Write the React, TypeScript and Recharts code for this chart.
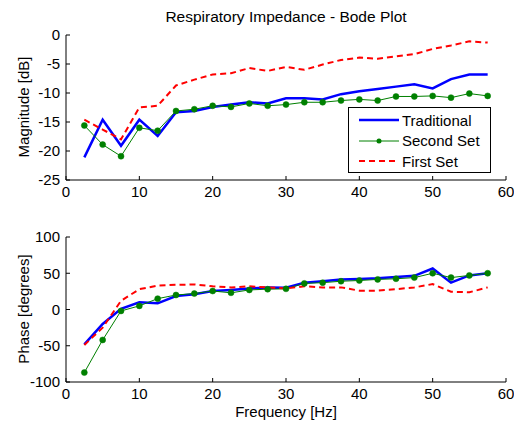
import React from 'react'
import { LineChart, Line, XAxis, YAxis, Legend } from 'recharts'

const freq = [2.5, 5, 7.5, 10, 12.5, 15, 17.5, 20, 22.5, 25, 27.5, 30, 32.5, 35, 37.5, 40, 42.5, 45, 47.5, 50, 52.5, 55, 57.5]

const magTraditional = [-21.1, -14.6, -19.1, -14.6, -17.4, -13.3, -13.1, -12.4, -12.0, -11.6, -11.8, -10.9, -10.9, -11.1, -10.2, -9.7, -9.3, -8.9, -8.5, -9.2, -7.6, -6.8, -6.8]
const magSecond = [-15.6, -18.9, -20.9, -16.0, -16.5, -13.1, -12.8, -12.2, -12.4, -11.8, -12.2, -12.0, -11.6, -11.6, -11.3, -11.1, -11.3, -10.6, -10.6, -10.5, -10.8, -10.1, -10.5]
const magFirst = [-14.6, -16.3, -18.0, -12.5, -12.2, -8.7, -7.7, -6.8, -6.6, -5.7, -6.2, -5.5, -6.0, -5.1, -4.3, -3.9, -4.1, -3.7, -3.3, -2.4, -1.8, -1.1, -1.3]

const phaseTraditional = [-48, -20, 1, 10, 8.5, 18.6, 21, 25.5, 27, 29, 30.5, 30, 37, 39, 41.5, 42, 43, 44.7, 46.5, 56.6, 37, 47, 50]
const phaseSecond = [-87, -42, -2, 5, 15, 20, 22, 25.5, 23, 27, 28, 28.5, 36, 37, 39, 40, 41.5, 42.4, 44, 50, 44, 47, 50]
const phaseFirst = [-49, -25, 12, 28, 33, 34, 34.5, 32, 30.5, 32, 30.5, 29, 32, 30.5, 30.5, 26, 26, 28, 30.5, 35, 24.5, 23.7, 30.5]

const xTicks = [0, 10, 20, 30, 40, 50, 60]
const magTicks = [-25, -20, -15, -10, -5, 0]
const phaseTicks = [-100, -50, 0, 50, 100]

const magData = freq.map((f, i) => ({ f, trad: magTraditional[i], second: magSecond[i], first: magFirst[i] }))
const phaseData = freq.map((f, i) => ({ f, trad: phaseTraditional[i], second: phaseSecond[i], first: phaseFirst[i] }))

const FONT = '"Liberation Sans", Arial, sans-serif'
const tickStyle = { fill: '#000', fontSize: 15, fontFamily: FONT }
const blank = () => ''

function BodeLegend() {
  const rows = [
    { name: 'Traditional', color: '#0000ff', width: 2.5, dash: undefined, dot: false },
    { name: 'Second Set', color: '#008000', width: 1, dash: undefined, dot: true },
    { name: 'First Set', color: '#ff0000', width: 2, dash: '6 4', dot: false },
  ]
  return (
    <div style={{ width: 141, height: 64, border: '1px solid #000', background: '#fff', boxSizing: 'content-box' }}>
      {rows.map((r) => (
        <div key={r.name} style={{ display: 'flex', alignItems: 'center', height: 20.5, marginTop: r.name === 'Traditional' ? 2 : 0 }}>
          <svg width={52} height={12} style={{ marginLeft: 8 }}>
            <line x1={2} y1={6} x2={42} y2={6} stroke={r.color} strokeWidth={r.width} strokeDasharray={r.dash} />
            {r.dot && <circle cx={22} cy={6} r={2.5} fill={r.color} />}
          </svg>
          <span style={{ fontFamily: FONT, fontSize: 15, color: '#000', marginLeft: -7 }}>{r.name}</span>
        </div>
      ))}
    </div>
  )
}

function Panel({ data, ticks, domain, top, legend }: { data: any[]; ticks: number[]; domain: [number, number]; top: number; legend?: boolean }) {
  return (
    <LineChart width={514} height={top + 145 + 25} data={data} margin={{ top, right: 8, bottom: 0, left: 0 }}>
      <XAxis dataKey="f" type="number" domain={[0, 60]} ticks={xTicks} height={25} stroke="#000" tickSize={-4} tickMargin={10} tick={tickStyle} interval={0} />
      <XAxis xAxisId="t" orientation="top" dataKey="f" type="number" domain={[0, 60]} ticks={xTicks} height={0} stroke="#000" tickSize={-4} tickFormatter={blank} interval={0} />
      <YAxis type="number" domain={domain} ticks={ticks} width={66} stroke="#000" tickSize={-4} tickMargin={10} tick={tickStyle} interval={0} allowDataOverflow />
      <YAxis yAxisId="r" orientation="right" type="number" domain={domain} ticks={ticks} width={0} stroke="#000" tickSize={-4} tickFormatter={blank} interval={0} />
      <Line dataKey="trad" stroke="#0000ff" strokeWidth={2.5} dot={false} isAnimationActive={false} />
      <Line dataKey="second" stroke="#008000" strokeWidth={1} dot={{ r: 3, fill: '#008000', stroke: '#008000', strokeWidth: 0.5 }} isAnimationActive={false} />
      <Line dataKey="first" stroke="#ff0000" strokeWidth={2} strokeDasharray="6 4" dot={false} isAnimationActive={false} />
      {legend && (
        <Legend layout="vertical" align="center" verticalAlign="middle" content={() => <BodeLegend />} wrapperStyle={{ position: 'absolute', left: 348, top: 107, width: 143, height: 66 }} />
      )}
    </LineChart>
  )
}

const label: React.CSSProperties = { position: 'absolute', fontFamily: FONT, fontSize: 15, color: '#000', whiteSpace: 'nowrap' }

export default function App() {
  return (
    <div style={{ position: 'absolute', left: 0, top: 0, width: 514, height: 425, background: '#fff' }}>
      <div style={{ ...label, left: 66, width: 440, top: 8, textAlign: 'center', fontSize: 15.5 }}>Respiratory Impedance - Bode Plot</div>
      <div style={{ position: 'absolute', left: 0, top: 0 }}>
        <Panel data={magData} ticks={magTicks} domain={[-25, 0]} top={35} legend />
      </div>
      <div style={{ position: 'absolute', left: 0, top: 200 }}>
        <Panel data={phaseData} ticks={phaseTicks} domain={[-100, 100]} top={37} />
      </div>
      <div style={{ ...label, left: 23, top: 107, transform: 'translate(-50%, -50%) rotate(-90deg)' }}>Magnitude [dB]</div>
      <div style={{ ...label, left: 23, top: 309, transform: 'translate(-50%, -50%) rotate(-90deg)' }}>Phase [degrees]</div>
      <div style={{ ...label, left: 66, width: 440, top: 403, textAlign: 'center' }}>Frequency [Hz]</div>
    </div>
  )
}
